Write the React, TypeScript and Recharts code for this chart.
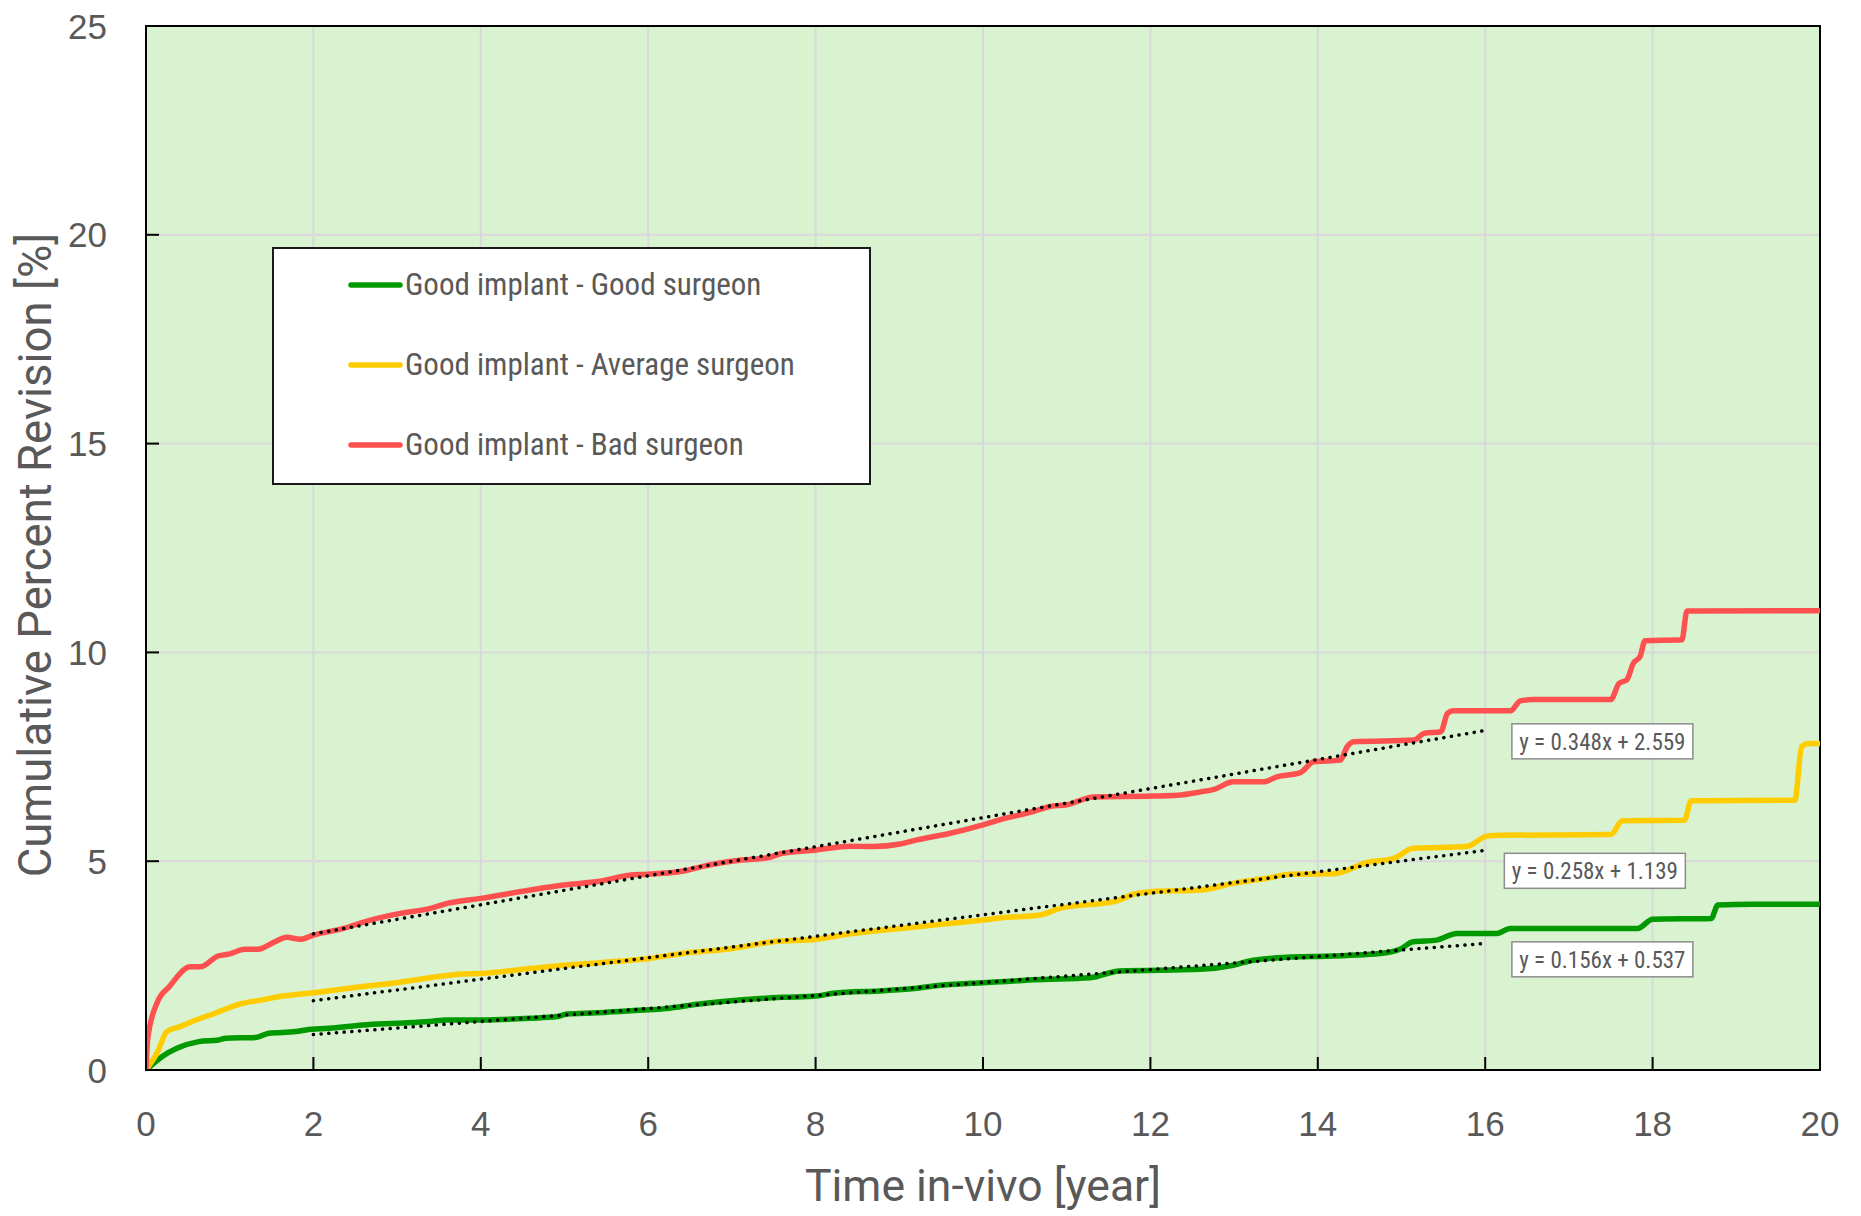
import React from 'react';
import { LineChart, Line, XAxis, YAxis, CartesianGrid, ReferenceArea, ReferenceDot, Legend } from 'recharts';

// time in-vivo [year] / cumulative percent revision [%]
const goodSurgeon: [number, number][] = [
	[0, 0], [0.19, 0.32], [0.37, 0.52], [0.63, 0.68], [0.87, 0.72], [0.95, 0.76], [1.31, 0.78], [1.47, 0.88],
	[1.79, 0.92], [1.91, 0.96], [2.19, 1.0], [2.59, 1.08], [2.99, 1.12], [3.39, 1.16], [3.59, 1.2], [4.0, 1.2],
	[4.59, 1.24], [4.91, 1.28], [5.03, 1.34], [5.39, 1.37], [5.79, 1.42], [6.01, 1.44], [6.21, 1.47], [6.61, 1.58],
	[6.89, 1.64], [7.6, 1.74], [8.01, 1.77], [8.21, 1.84], [8.81, 1.9], [9.21, 1.96], [9.41, 2.01], [10.0, 2.09],
	[10.28, 2.12], [10.6, 2.16], [11.28, 2.21], [11.63, 2.37], [12.59, 2.41], [12.99, 2.51], [13.23, 2.63],
	[13.79, 2.71], [14.0, 2.72], [14.74, 2.79], [14.98, 2.89], [15.14, 3.07], [15.42, 3.11], [15.66, 3.27],
	[16.14, 3.27], [16.3, 3.39], [17.82, 3.39], [18.0, 3.61], [18.7, 3.63], [18.78, 3.95], [19.18, 3.97], [20, 3.97],
];

const averageSurgeon: [number, number][] = [
	[0, 0], [0.13, 0.4], [0.25, 0.92], [0.41, 1.04], [0.65, 1.24], [0.8, 1.34], [1.12, 1.58], [1.39, 1.68],
	[1.63, 1.77], [2.0, 1.85], [2.59, 2.0], [2.99, 2.09], [3.39, 2.21], [3.79, 2.3], [4.0, 2.31], [4.59, 2.43],
	[4.99, 2.51], [5.42, 2.57], [6.01, 2.67], [6.41, 2.79], [7.01, 2.91], [7.49, 3.07], [8.01, 3.13], [8.41, 3.26],
	[9.01, 3.39], [9.41, 3.47], [10.0, 3.59], [10.2, 3.64], [10.68, 3.71], [10.92, 3.87], [11.6, 4.05], [11.8, 4.21],
	[12.02, 4.27], [12.6, 4.31], [12.99, 4.47], [13.39, 4.59], [13.67, 4.69], [14.19, 4.7], [14.59, 4.97],
	[14.91, 5.07], [15.14, 5.31], [15.78, 5.35], [16.02, 5.6], [16.18, 5.62], [17.5, 5.64], [17.64, 5.97],
	[18.38, 5.98], [18.46, 6.45], [19.7, 6.46], [19.78, 7.74], [19.86, 7.82], [20, 7.82],
];

const badSurgeon: [number, number][] = [
	[0, 0], [0.02, 0.74], [0.13, 1.6], [0.28, 2.0], [0.53, 2.47], [0.65, 2.47], [0.86, 2.73], [1.0, 2.78],
	[1.18, 2.89], [1.34, 2.89], [1.52, 3.05], [1.68, 3.18], [1.84, 3.13], [2.0, 3.23], [2.36, 3.39], [2.68, 3.59],
	[3.04, 3.75], [3.4, 3.87], [3.6, 3.99], [4.0, 4.11], [4.59, 4.31], [4.99, 4.43], [5.42, 4.52], [5.79, 4.67],
	[6.0, 4.69], [6.44, 4.77], [6.64, 4.87], [7.04, 5.01], [7.44, 5.09], [7.6, 5.19], [8.01, 5.27], [8.41, 5.36],
	[8.69, 5.35], [9.01, 5.41], [9.21, 5.51], [9.61, 5.67], [10.0, 5.87], [10.2, 5.99], [10.6, 6.19], [10.8, 6.31],
	[11.0, 6.35], [11.32, 6.54], [12.02, 6.56], [12.32, 6.58], [12.6, 6.66], [12.76, 6.72], [12.99, 6.9],
	[13.35, 6.9], [13.51, 7.02], [13.79, 7.12], [13.95, 7.38], [14.27, 7.42], [14.35, 7.74], [14.43, 7.86],
	[15.15, 7.9], [15.27, 8.06], [15.47, 8.1], [15.55, 8.54], [15.62, 8.6], [16.3, 8.6], [16.42, 8.84],
	[16.58, 8.87], [17.5, 8.87], [17.6, 9.26], [17.69, 9.34], [17.77, 9.74], [17.85, 9.9], [17.91, 10.28],
	[18.35, 10.3], [18.41, 10.99], [20, 11.0],
];

// linear trendlines, drawn from year 2 to 16
const goodTrend: [number, number][] = [[2, 0.85], [16, 3.03]];
const averageTrend: [number, number][] = [[2, 1.66], [16, 5.26]];
const badTrend: [number, number][] = [[2, 3.26], [16, 8.13]];

const seriesNames = ['Good implant - Good surgeon', 'Good implant - Average surgeon', 'Good implant - Bad surgeon'];
const seriesColors = ['#009900', '#FFCC00', '#FF5050'];
const equations = ['y = 0.156x + 0.537', 'y = 0.258x + 1.139', 'y = 0.348x + 2.559'];

const xTicks = [0, 2, 4, 6, 8, 10, 12, 14, 16, 18, 20];
const yTicks = [0, 5, 10, 15, 20, 25];

const NARROW = '"Roboto Condensed", "Liberation Sans Narrow", "DejaVu Sans Condensed", Roboto, sans-serif';
const SANS = 'Roboto, "Liberation Sans", sans-serif';
const ARIAL = '"Liberation Sans", Arial, sans-serif';
const GREY = '#595959';

const rows = (pts: [number, number][]) => pts.map(([t, v]) => ({ t, v }));

const XTick = (props: any) => {
	const { x, y, payload } = props;
	return (
		<g>
			{payload.value > 0 && payload.value < 20 && <line x1={x} y1={y} x2={x} y2={y - 13} stroke="#000" strokeWidth={2} />}
			<text x={x} y={y + 53} textAnchor="middle" dominantBaseline="central" fontFamily={ARIAL} fontSize={35} fill={GREY}>
				{payload.value}
			</text>
		</g>
	);
};

const YTick = (props: any) => {
	const { x, y, payload } = props;
	return (
		<g>
			{payload.value > 0 && payload.value < 25 && <line x1={x} y1={y} x2={x + 13} y2={y} stroke="#000" strokeWidth={2} />}
			<text x={x - 39} y={y} textAnchor="end" dominantBaseline="central" fontFamily={ARIAL} fontSize={35} fill={GREY}>
				{payload.value}
			</text>
		</g>
	);
};

const EquationBox = (text: string) => (props: any) => {
	const { cx, cy } = props;
	return (
		<g>
			<rect x={cx - 90.5} y={cy - 17.5} width={181} height={35} fill="#fff" stroke="#8c8c8c" strokeWidth={1.5} />
			<text x={cx} y={cy + 1} textAnchor="middle" dominantBaseline="central" fontFamily={NARROW} fontSize={23} fill={GREY}>
				{text}
			</text>
		</g>
	);
};

const renderLegend = () => (
	<div style={{ width: 599, height: 238, boxSizing: 'border-box', border: '2px solid #1a1a1a', background: '#fff', position: 'relative' }}>
		{seriesNames.map((name, i) => (
			<div key={name} style={{ position: 'absolute', left: 74, top: 36 + i * 80, height: 0 }}>
				<svg width={60} height={10} style={{ position: 'absolute', left: 0, top: -5 }}>
					<line x1={3} y1={5} x2={52} y2={5} stroke={seriesColors[i]} strokeWidth={5.5} strokeLinecap="round" />
				</svg>
				<span style={{ position: 'absolute', left: 57, top: -19, whiteSpace: 'nowrap', fontFamily: NARROW, fontSize: 31, lineHeight: '38px', color: GREY }}>
					{name}
				</span>
			</div>
		))}
	</div>
);

export default function App() {
	const series = [goodSurgeon, averageSurgeon, badSurgeon];
	const trends = [goodTrend, averageTrend, badTrend];
	const boxAt = [{ x: 17.4, y: 2.65 }, { x: 17.31, y: 4.77 }, { x: 17.4, y: 7.87 }];
	return (
		<div style={{ position: 'absolute', left: 0, top: 0, width: 1861, height: 1216, background: '#fff' }}>
			<LineChart width={1861} height={1216} margin={{ top: 26, right: 41, left: 0, bottom: 0 }}>
				<CartesianGrid fill="#D9F2D0" stroke="#D9D9D9" strokeWidth={2} horizontalValues={yTicks} verticalValues={xTicks} />
				<XAxis
					dataKey="t"
					type="number"
					domain={[0, 20]}
					ticks={xTicks}
					height={146}
					tickSize={0}
					tickMargin={0}
					tickLine={false}
					axisLine={{ stroke: '#000', strokeWidth: 2 }}
					tick={<XTick />}
					allowDataOverflow
					label={{
						content: () => (
							<text x={983} y={1201} textAnchor="middle" fontFamily={SANS} fontSize={44.5} fill={GREY}>Time in-vivo [year]</text>
						),
					}}
				/>
				<YAxis
					type="number"
					domain={[0, 25]}
					ticks={yTicks}
					width={146}
					tickSize={0}
					tickMargin={0}
					tickLine={false}
					axisLine={{ stroke: '#000', strokeWidth: 2 }}
					tick={<YTick />}
					allowDataOverflow
					label={{
						content: () => (
							<text x={51} y={555} transform="rotate(-90 51 555)" textAnchor="middle" fontFamily={SANS} fontSize={45.5} fill={GREY}>
								Cumulative Percent Revision [%]
							</text>
						),
					}}
				/>
				<ReferenceArea x1={0} x2={20} y1={0} y2={25} fill="none" stroke="#000" strokeWidth={2} />
				{series.map((pts, i) => (
					<Line
						key={seriesNames[i]}
						data={rows(pts)}
						dataKey="v"
						name={seriesNames[i]}
						type="monotone"
						stroke={seriesColors[i]}
						strokeWidth={5.5}
						dot={false}
						activeDot={false}
						isAnimationActive={false}
					/>
				))}
				{trends.map((pts, i) => (
					<Line
						key={'trend-' + i}
						data={rows(pts)}
						dataKey="v"
						type="linear"
						stroke="#000"
						strokeWidth={3.5}
						strokeDasharray="0.1 7.6"
						strokeLinecap="round"
						dot={false}
						activeDot={false}
						legendType="none"
						isAnimationActive={false}
					/>
				))}
				{boxAt.map((p, i) => (
					<ReferenceDot key={equations[i]} x={p.x} y={p.y} r={1} shape={EquationBox(equations[i])} />
				))}
				<Legend
					verticalAlign="middle"
					layout="horizontal"
					wrapperStyle={{ left: 272, top: 247, width: 599, height: 238 }}
					content={renderLegend}
				/>
			</LineChart>
		</div>
	);
}
